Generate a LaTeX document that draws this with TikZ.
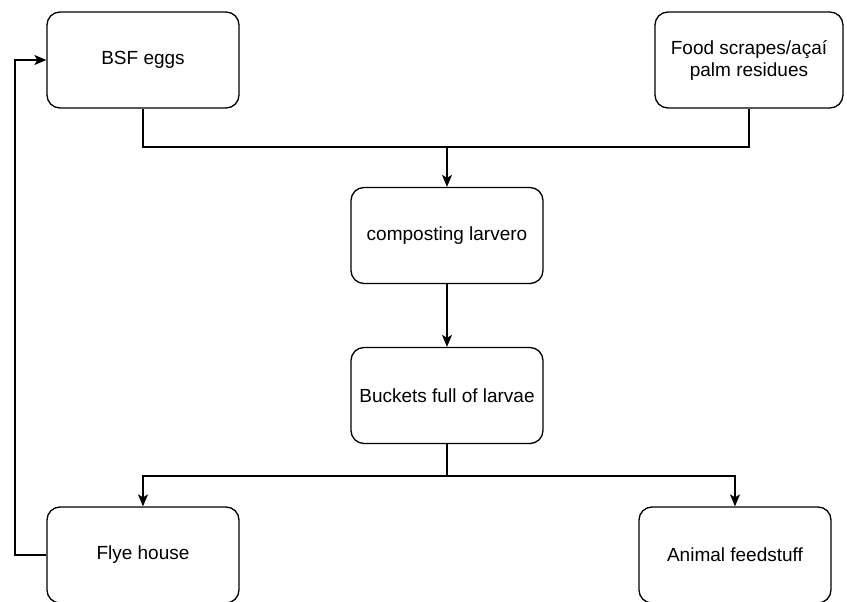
\documentclass[tikz,border=0pt]{standalone}
\usepackage{fontspec}
\setmainfont{Liberation Sans}
\usetikzlibrary{arrows.meta}
\begin{document}
\begin{tikzpicture}[x=1pt,y=-1pt,
  box/.style={draw, line width=1.3pt, rounded corners=13pt, minimum width=192pt, minimum height=96pt, align=center, inner sep=2pt, font=\fontsize{19}{22}\selectfont},
  conn/.style={line width=1.3pt},
  arr/.style={conn, -{Stealth[length=12pt,width=10pt,inset=3pt]}}]
\useasboundingbox (0,0) rectangle (847,602);
\clip (0,0) rectangle (847,602);
\node[box] (bsf) at (143,60) {BSF eggs};
\node[box, minimum width=188pt] (food) at (749,60) {Food scrapes/açaí\\palm residues};
\node[box] (comp) at (447,235.5) {composting larvero};
\node[box] (buck) at (447,395.5) {Buckets full of larvae};
\node[box] (flye) at (143,555) {Flye house};
\node[box] (anim) at (735,555) {Animal feedstuff};
\coordinate (j1) at (447,147);
\coordinate (j2) at (447,476);
\coordinate (fb) at (15,300);
\draw[conn] (bsf.south) |- (j1);
\draw[conn] (food.south) |- (j1);
\draw[arr] (j1) -- (comp.north);
\draw[arr] (comp.south) -- (buck.north);
\draw[conn] (buck.south) -- (j2);
\draw[arr] (j2) -| (flye.north);
\draw[arr] (j2) -| (anim.north);
\draw[arr] (flye.west) -| (fb) |- (bsf.west);
\end{tikzpicture}
\end{document}
